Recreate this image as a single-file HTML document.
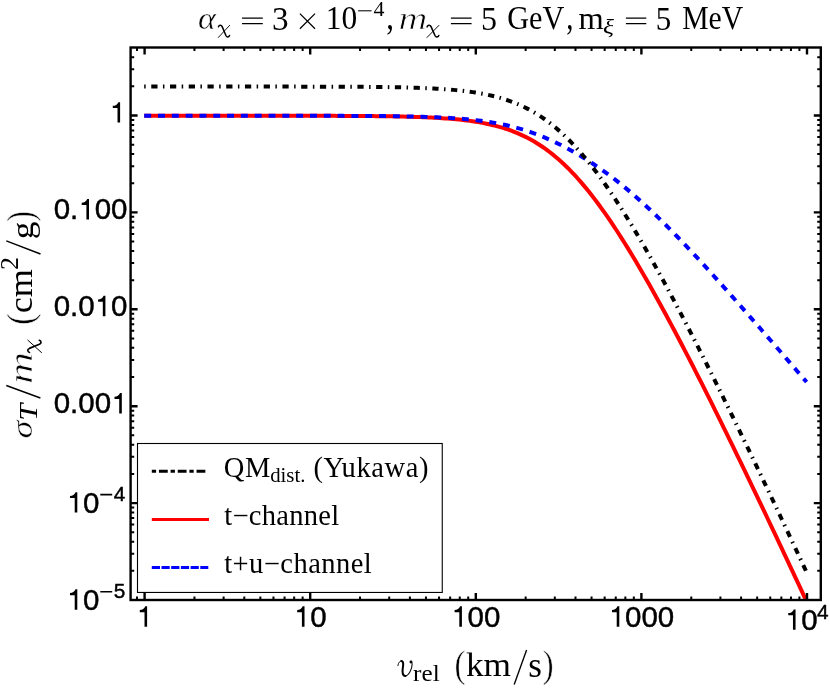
<!DOCTYPE html>
<html><head><meta charset="utf-8"><title>plot</title>
<style>
html,body{margin:0;padding:0;background:#fff;}
svg{display:block;will-change:transform;}
text{fill:#000;}
.ser{font-family:"Liberation Serif",serif;}
.san{font-family:"Liberation Sans",sans-serif;}
</style></head><body>
<svg width="830" height="692" viewBox="0 0 830 692">
<rect width="830" height="692" fill="#fff"/>
<!-- curves -->
<clipPath id="pc"><rect x="130.6" y="47.5" width="690.20" height="552.50"/></clipPath>
<g clip-path="url(#pc)"><g fill="none" stroke-width="4" stroke-linejoin="round" transform="translate(-0.4,0.25)">
<path d="M144.60,115.50 L147.36,115.50 L150.12,115.50 L152.88,115.50 L155.64,115.50 L158.40,115.50 L161.16,115.50 L163.92,115.50 L166.68,115.50 L169.44,115.50 L172.20,115.50 L174.96,115.50 L177.72,115.50 L180.48,115.50 L183.24,115.50 L186.00,115.50 L188.76,115.50 L191.52,115.50 L194.28,115.50 L197.04,115.50 L199.80,115.50 L202.56,115.50 L205.32,115.50 L208.08,115.50 L210.84,115.50 L213.60,115.50 L216.36,115.50 L219.12,115.50 L221.88,115.51 L224.64,115.51 L227.40,115.51 L230.16,115.51 L232.92,115.51 L235.68,115.51 L238.44,115.51 L241.20,115.51 L243.96,115.51 L246.72,115.51 L249.48,115.51 L252.24,115.51 L255.00,115.51 L257.76,115.51 L260.52,115.52 L263.28,115.52 L266.04,115.52 L268.80,115.52 L271.56,115.52 L274.32,115.52 L277.08,115.52 L279.84,115.53 L282.60,115.53 L285.36,115.53 L288.12,115.53 L290.88,115.54 L293.64,115.54 L296.40,115.54 L299.16,115.55 L301.92,115.55 L304.68,115.55 L307.44,115.56 L310.20,115.56 L312.96,115.57 L315.72,115.57 L318.48,115.58 L321.24,115.58 L324.00,115.59 L326.76,115.60 L329.52,115.61 L332.28,115.62 L335.04,115.62 L337.80,115.63 L340.56,115.65 L343.32,115.66 L346.08,115.67 L348.84,115.68 L351.60,115.70 L354.36,115.71 L357.12,115.73 L359.88,115.75 L362.64,115.77 L365.40,115.79 L368.16,115.81 L370.92,115.84 L373.68,115.86 L376.44,115.89 L379.20,115.92 L381.96,115.96 L384.72,115.99 L387.48,116.03 L390.24,116.08 L393.00,116.12 L395.76,116.17 L398.52,116.22 L401.28,116.28 L404.04,116.34 L406.80,116.41 L409.56,116.48 L412.32,116.56 L415.08,116.64 L417.84,116.73 L420.60,116.83 L423.36,116.94 L426.12,117.05 L428.88,117.17 L431.64,117.30 L434.40,117.44 L437.16,117.60 L439.92,117.76 L442.68,117.94 L445.44,118.13 L448.20,118.33 L450.96,118.55 L453.72,118.79 L456.48,119.04 L459.24,119.32 L462.00,119.61 L464.76,119.93 L467.52,120.27 L470.28,120.63 L473.04,121.03 L475.80,121.45 L478.56,121.90 L481.32,122.38 L484.08,122.90 L486.84,123.45 L489.60,124.04 L492.36,124.68 L495.12,125.35 L497.88,126.07 L500.64,126.84 L503.40,127.67 L506.16,128.54 L508.92,129.47 L511.68,130.46 L514.44,131.51 L517.20,132.63 L519.96,133.81 L522.72,135.07 L525.48,136.39 L528.24,137.79 L531.00,139.27 L533.76,140.83 L536.52,142.47 L539.28,144.20 L542.04,146.01 L544.80,147.91 L547.56,149.90 L550.32,151.98 L553.08,154.16 L555.84,156.43 L558.60,158.79 L561.36,161.25 L564.12,163.80 L566.88,166.45 L569.64,169.20 L572.40,172.04 L575.16,174.98 L577.92,178.01 L580.68,181.13 L583.44,184.35 L586.20,187.65 L588.96,191.05 L591.72,194.53 L594.48,198.10 L597.24,201.75 L600.00,205.49 L602.76,209.30 L605.52,213.20 L608.28,217.17 L611.04,221.21 L613.80,225.32 L616.56,229.51 L619.32,233.76 L622.08,238.07 L624.84,242.45 L627.60,246.89 L630.36,251.39 L633.12,255.94 L635.88,260.55 L638.64,265.21 L641.40,269.92 L644.16,274.68 L646.92,279.49 L649.68,284.34 L652.44,289.24 L655.20,294.18 L657.96,299.16 L660.72,304.17 L663.48,309.23 L666.24,314.32 L669.00,319.44 L671.76,324.60 L674.52,329.79 L677.28,335.01 L680.04,340.26 L682.80,345.54 L685.56,350.85 L688.32,356.18 L691.08,361.54 L693.84,366.92 L696.60,372.33 L699.36,377.76 L702.12,383.21 L704.88,388.68 L707.64,394.17 L710.40,399.69 L713.16,405.22 L715.92,410.77 L718.68,416.33 L721.44,421.92 L724.20,427.52 L726.96,433.14 L729.72,438.77 L732.48,444.42 L735.24,450.08 L738.00,455.76 L740.76,461.45 L743.52,467.15 L746.28,472.87 L749.04,478.59 L751.80,484.33 L754.56,490.09 L757.32,495.85 L760.08,501.62 L762.84,507.41 L765.60,513.20 L768.36,519.01 L771.12,524.82 L773.88,530.65 L776.64,536.48 L779.40,542.33 L782.16,548.18 L784.92,554.04 L787.68,559.91 L790.44,565.78 L793.20,571.67 L795.96,577.56 L798.72,583.46 L801.48,589.36 L804.24,595.28 L807.00,601.20" stroke="#f00"/>
<path d="M144.60,115.50 L147.36,115.50 L150.12,115.50 L152.88,115.50 L155.64,115.50 L158.40,115.50 L161.16,115.50 L163.92,115.50 L166.68,115.50 L169.44,115.50 L172.20,115.50 L174.96,115.50 L177.72,115.50 L180.48,115.50 L183.24,115.50 L186.00,115.50 L188.76,115.50 L191.52,115.50 L194.28,115.50 L197.04,115.50 L199.80,115.50 L202.56,115.50 L205.32,115.50 L208.08,115.50 L210.84,115.50 L213.60,115.50 L216.36,115.50 L219.12,115.50 L221.88,115.50 L224.64,115.50 L227.40,115.50 L230.16,115.51 L232.92,115.51 L235.68,115.51 L238.44,115.51 L241.20,115.51 L243.96,115.51 L246.72,115.51 L249.48,115.51 L252.24,115.51 L255.00,115.51 L257.76,115.51 L260.52,115.51 L263.28,115.51 L266.04,115.51 L268.80,115.51 L271.56,115.52 L274.32,115.52 L277.08,115.52 L279.84,115.52 L282.60,115.52 L285.36,115.52 L288.12,115.53 L290.88,115.53 L293.64,115.53 L296.40,115.53 L299.16,115.53 L301.92,115.54 L304.68,115.54 L307.44,115.54 L310.20,115.55 L312.96,115.55 L315.72,115.55 L318.48,115.56 L321.24,115.56 L324.00,115.57 L326.76,115.57 L329.52,115.58 L332.28,115.59 L335.04,115.59 L337.80,115.60 L340.56,115.61 L343.32,115.62 L346.08,115.63 L348.84,115.64 L351.60,115.65 L354.36,115.66 L357.12,115.67 L359.88,115.69 L362.64,115.70 L365.40,115.72 L368.16,115.73 L370.92,115.75 L373.68,115.77 L376.44,115.79 L379.20,115.82 L381.96,115.84 L384.72,115.87 L387.48,115.90 L390.24,115.93 L393.00,115.96 L395.76,116.00 L398.52,116.04 L401.28,116.08 L404.04,116.13 L406.80,116.18 L409.56,116.23 L412.32,116.29 L415.08,116.35 L417.84,116.42 L420.60,116.49 L423.36,116.57 L426.12,116.65 L428.88,116.75 L431.64,116.84 L434.40,116.95 L437.16,117.06 L439.92,117.18 L442.68,117.31 L445.44,117.45 L448.20,117.60 L450.96,117.76 L453.72,117.94 L456.48,118.12 L459.24,118.32 L462.00,118.54 L464.76,118.77 L467.52,119.01 L470.28,119.28 L473.04,119.56 L475.80,119.86 L478.56,120.18 L481.32,120.53 L484.08,120.90 L486.84,121.29 L489.60,121.71 L492.36,122.15 L495.12,122.62 L497.88,123.13 L500.64,123.66 L503.40,124.22 L506.16,124.82 L508.92,125.45 L511.68,126.12 L514.44,126.82 L517.20,127.56 L519.96,128.34 L522.72,129.16 L525.48,130.01 L528.24,130.91 L531.00,131.85 L533.76,132.82 L536.52,133.84 L539.28,134.90 L542.04,136.00 L544.80,137.14 L547.56,138.33 L550.32,139.55 L553.08,140.81 L555.84,142.11 L558.60,143.45 L561.36,144.82 L564.12,146.24 L566.88,147.69 L569.64,149.18 L572.40,150.71 L575.16,152.27 L577.92,153.87 L580.68,155.50 L583.44,157.17 L586.20,158.88 L588.96,160.63 L591.72,162.41 L594.48,164.23 L597.24,166.09 L600.00,167.99 L602.76,169.93 L605.52,171.90 L608.28,173.92 L611.04,175.97 L613.80,178.06 L616.56,180.20 L619.32,182.37 L622.08,184.58 L624.84,186.83 L627.60,189.12 L630.36,191.44 L633.12,193.81 L635.88,196.21 L638.64,198.64 L641.40,201.12 L644.16,203.62 L646.92,206.16 L649.68,208.73 L652.44,211.34 L655.20,213.97 L657.96,216.63 L660.72,219.32 L663.48,222.04 L666.24,224.79 L669.00,227.56 L671.76,230.35 L674.52,233.17 L677.28,236.01 L680.04,238.87 L682.80,241.75 L685.56,244.65 L688.32,247.57 L691.08,250.51 L693.84,253.46 L696.60,256.43 L699.36,259.41 L702.12,262.40 L704.88,265.42 L707.64,268.44 L710.40,271.47 L713.16,274.52 L715.92,277.58 L718.68,280.64 L721.44,283.72 L724.20,286.81 L726.96,289.90 L729.72,293.00 L732.48,296.12 L735.24,299.23 L738.00,302.36 L740.76,305.49 L743.52,308.62 L746.28,311.77 L749.04,314.91 L751.80,318.07 L754.56,321.22 L757.32,324.39 L760.08,327.55 L762.84,330.72 L765.60,333.90 L768.36,337.07 L771.12,340.25 L773.88,343.44 L776.64,346.62 L779.40,349.81 L782.16,353.00 L784.92,356.20 L787.68,359.39 L790.44,362.59 L793.20,365.79 L795.96,368.99 L798.72,372.19 L801.48,375.39 L804.24,378.60 L807.00,381.80" stroke="#00f" stroke-dasharray="6.95 6.865"/>
<path d="M144.60,86.33 L147.36,86.33 L150.12,86.33 L152.88,86.33 L155.64,86.33 L158.40,86.33 L161.16,86.33 L163.92,86.33 L166.68,86.33 L169.44,86.33 L172.20,86.33 L174.96,86.33 L177.72,86.33 L180.48,86.33 L183.24,86.33 L186.00,86.33 L188.76,86.33 L191.52,86.33 L194.28,86.33 L197.04,86.33 L199.80,86.33 L202.56,86.33 L205.32,86.33 L208.08,86.33 L210.84,86.33 L213.60,86.33 L216.36,86.33 L219.12,86.34 L221.88,86.34 L224.64,86.34 L227.40,86.34 L230.16,86.34 L232.92,86.34 L235.68,86.34 L238.44,86.34 L241.20,86.34 L243.96,86.34 L246.72,86.34 L249.48,86.34 L252.24,86.34 L255.00,86.34 L257.76,86.34 L260.52,86.35 L263.28,86.35 L266.04,86.35 L268.80,86.35 L271.56,86.35 L274.32,86.35 L277.08,86.36 L279.84,86.36 L282.60,86.36 L285.36,86.36 L288.12,86.36 L290.88,86.37 L293.64,86.37 L296.40,86.37 L299.16,86.38 L301.92,86.38 L304.68,86.38 L307.44,86.39 L310.20,86.39 L312.96,86.40 L315.72,86.40 L318.48,86.41 L321.24,86.42 L324.00,86.42 L326.76,86.43 L329.52,86.44 L332.28,86.45 L335.04,86.45 L337.80,86.46 L340.56,86.48 L343.32,86.49 L346.08,86.50 L348.84,86.51 L351.60,86.53 L354.36,86.54 L357.12,86.56 L359.88,86.58 L362.64,86.60 L365.40,86.62 L368.16,86.64 L370.92,86.67 L373.68,86.69 L376.44,86.72 L379.20,86.75 L381.96,86.79 L384.72,86.82 L387.48,86.86 L390.24,86.91 L393.00,86.95 L395.76,87.00 L398.52,87.05 L401.28,87.11 L404.04,87.17 L406.80,87.24 L409.56,87.31 L412.32,87.39 L415.08,87.47 L417.84,87.56 L420.60,87.66 L423.36,87.77 L426.12,87.88 L428.88,88.00 L431.64,88.13 L434.40,88.27 L437.16,88.43 L439.92,88.59 L442.68,88.77 L445.44,88.96 L448.20,89.16 L450.96,89.38 L453.72,89.62 L456.48,89.87 L459.24,90.15 L462.00,90.44 L464.76,90.76 L467.52,91.10 L470.28,91.46 L473.04,91.86 L475.80,92.28 L478.56,92.73 L481.32,93.21 L484.08,93.73 L486.84,94.28 L489.60,94.87 L492.36,95.51 L495.12,96.18 L497.88,96.90 L500.64,97.67 L503.40,98.50 L506.16,99.37 L508.92,100.30 L511.68,101.29 L514.44,102.34 L517.20,103.46 L519.96,104.64 L522.72,105.90 L525.48,107.22 L528.24,108.62 L531.00,110.10 L533.76,111.66 L536.52,113.30 L539.28,115.03 L542.04,116.84 L544.80,118.74 L547.56,120.73 L550.32,122.81 L553.08,124.99 L555.84,127.26 L558.60,129.62 L561.36,132.08 L564.12,134.63 L566.88,137.28 L569.64,140.03 L572.40,142.87 L575.16,145.81 L577.92,148.84 L580.68,151.96 L583.44,155.18 L586.20,158.48 L588.96,161.88 L591.72,165.36 L594.48,168.93 L597.24,172.58 L600.00,176.32 L602.76,180.13 L605.52,184.03 L608.28,188.00 L611.04,192.04 L613.80,196.15 L616.56,200.34 L619.32,204.59 L622.08,208.90 L624.84,213.28 L627.60,217.72 L630.36,222.22 L633.12,226.77 L635.88,231.38 L638.64,236.04 L641.40,240.75 L644.16,245.51 L646.92,250.32 L649.68,255.17 L652.44,260.07 L655.20,265.01 L657.96,269.99 L660.72,275.00 L663.48,280.06 L666.24,285.15 L669.00,290.27 L671.76,295.43 L674.52,300.62 L677.28,305.84 L680.04,311.09 L682.80,316.37 L685.56,321.68 L688.32,327.01 L691.08,332.37 L693.84,337.75 L696.60,343.16 L699.36,348.59 L702.12,354.04 L704.88,359.51 L707.64,365.00 L710.40,370.52 L713.16,376.05 L715.92,381.60 L718.68,387.16 L721.44,392.75 L724.20,398.35 L726.96,403.97 L729.72,409.60 L732.48,415.25 L735.24,420.91 L738.00,426.59 L740.76,432.28 L743.52,437.98 L746.28,443.70 L749.04,449.42 L751.80,455.16 L754.56,460.92 L757.32,466.68 L760.08,472.45 L762.84,478.24 L765.60,484.03 L768.36,489.84 L771.12,495.65 L773.88,501.48 L776.64,507.31 L779.40,513.16 L782.16,519.01 L784.92,524.87 L787.68,530.74 L790.44,536.61 L793.20,542.50 L795.96,548.39 L798.72,554.29 L801.48,560.19 L804.24,566.11 L807.00,572.03" stroke="#000" stroke-dasharray="1.5 5.55 6.25 5.44"/>
</g></g>
<!-- frame + ticks -->
<g stroke="#000" fill="none">
<path d="M137.02,600.0 v-3.6 M137.02,47.5 v3.6" stroke-width="2.0"/>
<path d="M144.60,600.0 v-7.0 M144.60,47.5 v7.0" stroke-width="2.4"/>
<path d="M194.45,600.0 v-3.6 M194.45,47.5 v3.6" stroke-width="2.0"/>
<path d="M223.61,600.0 v-3.6 M223.61,47.5 v3.6" stroke-width="2.0"/>
<path d="M244.30,600.0 v-3.6 M244.30,47.5 v3.6" stroke-width="2.0"/>
<path d="M260.35,600.0 v-3.6 M260.35,47.5 v3.6" stroke-width="2.0"/>
<path d="M273.46,600.0 v-3.6 M273.46,47.5 v3.6" stroke-width="2.0"/>
<path d="M284.55,600.0 v-3.6 M284.55,47.5 v3.6" stroke-width="2.0"/>
<path d="M294.15,600.0 v-3.6 M294.15,47.5 v3.6" stroke-width="2.0"/>
<path d="M302.62,600.0 v-3.6 M302.62,47.5 v3.6" stroke-width="2.0"/>
<path d="M310.20,600.0 v-7.0 M310.20,47.5 v7.0" stroke-width="2.4"/>
<path d="M360.05,600.0 v-3.6 M360.05,47.5 v3.6" stroke-width="2.0"/>
<path d="M389.21,600.0 v-3.6 M389.21,47.5 v3.6" stroke-width="2.0"/>
<path d="M409.90,600.0 v-3.6 M409.90,47.5 v3.6" stroke-width="2.0"/>
<path d="M425.95,600.0 v-3.6 M425.95,47.5 v3.6" stroke-width="2.0"/>
<path d="M439.06,600.0 v-3.6 M439.06,47.5 v3.6" stroke-width="2.0"/>
<path d="M450.15,600.0 v-3.6 M450.15,47.5 v3.6" stroke-width="2.0"/>
<path d="M459.75,600.0 v-3.6 M459.75,47.5 v3.6" stroke-width="2.0"/>
<path d="M468.22,600.0 v-3.6 M468.22,47.5 v3.6" stroke-width="2.0"/>
<path d="M475.80,600.0 v-7.0 M475.80,47.5 v7.0" stroke-width="2.4"/>
<path d="M525.65,600.0 v-3.6 M525.65,47.5 v3.6" stroke-width="2.0"/>
<path d="M554.81,600.0 v-3.6 M554.81,47.5 v3.6" stroke-width="2.0"/>
<path d="M575.50,600.0 v-3.6 M575.50,47.5 v3.6" stroke-width="2.0"/>
<path d="M591.55,600.0 v-3.6 M591.55,47.5 v3.6" stroke-width="2.0"/>
<path d="M604.66,600.0 v-3.6 M604.66,47.5 v3.6" stroke-width="2.0"/>
<path d="M615.75,600.0 v-3.6 M615.75,47.5 v3.6" stroke-width="2.0"/>
<path d="M625.35,600.0 v-3.6 M625.35,47.5 v3.6" stroke-width="2.0"/>
<path d="M633.82,600.0 v-3.6 M633.82,47.5 v3.6" stroke-width="2.0"/>
<path d="M641.40,600.0 v-7.0 M641.40,47.5 v7.0" stroke-width="2.4"/>
<path d="M691.25,600.0 v-3.6 M691.25,47.5 v3.6" stroke-width="2.0"/>
<path d="M720.41,600.0 v-3.6 M720.41,47.5 v3.6" stroke-width="2.0"/>
<path d="M741.10,600.0 v-3.6 M741.10,47.5 v3.6" stroke-width="2.0"/>
<path d="M757.15,600.0 v-3.6 M757.15,47.5 v3.6" stroke-width="2.0"/>
<path d="M770.26,600.0 v-3.6 M770.26,47.5 v3.6" stroke-width="2.0"/>
<path d="M781.35,600.0 v-3.6 M781.35,47.5 v3.6" stroke-width="2.0"/>
<path d="M790.95,600.0 v-3.6 M790.95,47.5 v3.6" stroke-width="2.0"/>
<path d="M799.42,600.0 v-3.6 M799.42,47.5 v3.6" stroke-width="2.0"/>
<path d="M807.00,600.0 v-7.0 M807.00,47.5 v7.0" stroke-width="2.4"/>
<path d="M130.6,570.83 h3.6 M820.8,570.83 h-3.6" stroke-width="2.0"/>
<path d="M130.6,553.77 h3.6 M820.8,553.77 h-3.6" stroke-width="2.0"/>
<path d="M130.6,541.66 h3.6 M820.8,541.66 h-3.6" stroke-width="2.0"/>
<path d="M130.6,532.27 h3.6 M820.8,532.27 h-3.6" stroke-width="2.0"/>
<path d="M130.6,524.60 h3.6 M820.8,524.60 h-3.6" stroke-width="2.0"/>
<path d="M130.6,518.11 h3.6 M820.8,518.11 h-3.6" stroke-width="2.0"/>
<path d="M130.6,512.49 h3.6 M820.8,512.49 h-3.6" stroke-width="2.0"/>
<path d="M130.6,507.53 h3.6 M820.8,507.53 h-3.6" stroke-width="2.0"/>
<path d="M130.6,503.10 h7.0 M820.8,503.10 h-7.0" stroke-width="2.4"/>
<path d="M130.6,473.93 h3.6 M820.8,473.93 h-3.6" stroke-width="2.0"/>
<path d="M130.6,456.87 h3.6 M820.8,456.87 h-3.6" stroke-width="2.0"/>
<path d="M130.6,444.76 h3.6 M820.8,444.76 h-3.6" stroke-width="2.0"/>
<path d="M130.6,435.37 h3.6 M820.8,435.37 h-3.6" stroke-width="2.0"/>
<path d="M130.6,427.70 h3.6 M820.8,427.70 h-3.6" stroke-width="2.0"/>
<path d="M130.6,421.21 h3.6 M820.8,421.21 h-3.6" stroke-width="2.0"/>
<path d="M130.6,415.59 h3.6 M820.8,415.59 h-3.6" stroke-width="2.0"/>
<path d="M130.6,410.63 h3.6 M820.8,410.63 h-3.6" stroke-width="2.0"/>
<path d="M130.6,406.20 h7.0 M820.8,406.20 h-7.0" stroke-width="2.4"/>
<path d="M130.6,377.03 h3.6 M820.8,377.03 h-3.6" stroke-width="2.0"/>
<path d="M130.6,359.97 h3.6 M820.8,359.97 h-3.6" stroke-width="2.0"/>
<path d="M130.6,347.86 h3.6 M820.8,347.86 h-3.6" stroke-width="2.0"/>
<path d="M130.6,338.47 h3.6 M820.8,338.47 h-3.6" stroke-width="2.0"/>
<path d="M130.6,330.80 h3.6 M820.8,330.80 h-3.6" stroke-width="2.0"/>
<path d="M130.6,324.31 h3.6 M820.8,324.31 h-3.6" stroke-width="2.0"/>
<path d="M130.6,318.69 h3.6 M820.8,318.69 h-3.6" stroke-width="2.0"/>
<path d="M130.6,313.73 h3.6 M820.8,313.73 h-3.6" stroke-width="2.0"/>
<path d="M130.6,309.30 h7.0 M820.8,309.30 h-7.0" stroke-width="2.4"/>
<path d="M130.6,280.13 h3.6 M820.8,280.13 h-3.6" stroke-width="2.0"/>
<path d="M130.6,263.07 h3.6 M820.8,263.07 h-3.6" stroke-width="2.0"/>
<path d="M130.6,250.96 h3.6 M820.8,250.96 h-3.6" stroke-width="2.0"/>
<path d="M130.6,241.57 h3.6 M820.8,241.57 h-3.6" stroke-width="2.0"/>
<path d="M130.6,233.90 h3.6 M820.8,233.90 h-3.6" stroke-width="2.0"/>
<path d="M130.6,227.41 h3.6 M820.8,227.41 h-3.6" stroke-width="2.0"/>
<path d="M130.6,221.79 h3.6 M820.8,221.79 h-3.6" stroke-width="2.0"/>
<path d="M130.6,216.83 h3.6 M820.8,216.83 h-3.6" stroke-width="2.0"/>
<path d="M130.6,212.40 h7.0 M820.8,212.40 h-7.0" stroke-width="2.4"/>
<path d="M130.6,183.23 h3.6 M820.8,183.23 h-3.6" stroke-width="2.0"/>
<path d="M130.6,166.17 h3.6 M820.8,166.17 h-3.6" stroke-width="2.0"/>
<path d="M130.6,154.06 h3.6 M820.8,154.06 h-3.6" stroke-width="2.0"/>
<path d="M130.6,144.67 h3.6 M820.8,144.67 h-3.6" stroke-width="2.0"/>
<path d="M130.6,137.00 h3.6 M820.8,137.00 h-3.6" stroke-width="2.0"/>
<path d="M130.6,130.51 h3.6 M820.8,130.51 h-3.6" stroke-width="2.0"/>
<path d="M130.6,124.89 h3.6 M820.8,124.89 h-3.6" stroke-width="2.0"/>
<path d="M130.6,119.93 h3.6 M820.8,119.93 h-3.6" stroke-width="2.0"/>
<path d="M130.6,115.50 h7.0 M820.8,115.50 h-7.0" stroke-width="2.4"/>
<path d="M130.6,86.33 h3.6 M820.8,86.33 h-3.6" stroke-width="2.0"/>
<path d="M130.6,69.27 h3.6 M820.8,69.27 h-3.6" stroke-width="2.0"/>
<path d="M130.6,57.16 h3.6 M820.8,57.16 h-3.6" stroke-width="2.0"/>
<rect x="130.6" y="47.5" width="690.20" height="552.50" stroke-width="2.4"/>
</g>
<!-- legend -->
<rect x="137.5" y="443.5" width="304.75" height="148.95" fill="#fff" stroke="#000" stroke-width="1.1"/>
<g fill="none">
<path d="M151.8,471.2 H205.6" stroke="#000" stroke-width="3" stroke-dasharray="4.3 2.85 8.8 2.85"/>
<path d="M151.8,519.45 H209" stroke="#f00" stroke-width="3"/>
<path d="M151.8,567.4 H208.3" stroke="#00f" stroke-width="3" stroke-dasharray="8.2 1.5"/>
</g>
<g class="ser" font-size="28.5">
<text x="223.8" y="476.5" textLength="46.5" lengthAdjust="spacing">QM</text>
<text x="270.2" y="482.0" font-size="20.8">dist.</text>
<text x="313.5" y="476.5" textLength="114.9" lengthAdjust="spacing">(Yukawa)</text>
<text x="224.2" y="524.75" textLength="115" lengthAdjust="spacing">t−channel</text>
<text x="224.2" y="573.0" textLength="147.5" lengthAdjust="spacing">t+u−channel</text>
</g>
<!-- tick labels -->
<g class="san" stroke="#000" stroke-width="0.45" stroke-linejoin="round">
<path transform="translate(109.40,122.55) scale(29.5,28.762)" d="M0.275,0 L0.275,-0.505 L0.115,-0.505 L0.115,-0.58 C0.2,-0.585 0.275,-0.625 0.302,-0.709 L0.363,-0.709 L0.363,0 Z" fill="#000" stroke="none"/>
<text transform="translate(53.69,219.45) scale(1,0.975)" font-size="29.5">0</text>
<text transform="translate(70.09,219.45) scale(1,0.975)" font-size="29.5">.</text>
<path transform="translate(78.29,219.45) scale(29.5,28.762)" d="M0.275,0 L0.275,-0.505 L0.115,-0.505 L0.115,-0.58 C0.2,-0.585 0.275,-0.625 0.302,-0.709 L0.363,-0.709 L0.363,0 Z" fill="#000" stroke="none"/>
<text transform="translate(94.70,219.45) scale(1,0.975)" font-size="29.5">0</text>
<text transform="translate(111.10,219.45) scale(1,0.975)" font-size="29.5">0</text>
<text transform="translate(53.69,316.25) scale(1,0.975)" font-size="29.5">0</text>
<text transform="translate(70.09,316.25) scale(1,0.975)" font-size="29.5">.</text>
<text transform="translate(78.29,316.25) scale(1,0.975)" font-size="29.5">0</text>
<path transform="translate(94.70,316.25) scale(29.5,28.762)" d="M0.275,0 L0.275,-0.505 L0.115,-0.505 L0.115,-0.58 C0.2,-0.585 0.275,-0.625 0.302,-0.709 L0.363,-0.709 L0.363,0 Z" fill="#000" stroke="none"/>
<text transform="translate(111.10,316.25) scale(1,0.975)" font-size="29.5">0</text>
<text transform="translate(53.69,413.45) scale(1,0.975)" font-size="29.5">0</text>
<text transform="translate(70.09,413.45) scale(1,0.975)" font-size="29.5">.</text>
<text transform="translate(78.29,413.45) scale(1,0.975)" font-size="29.5">0</text>
<text transform="translate(94.70,413.45) scale(1,0.975)" font-size="29.5">0</text>
<path transform="translate(111.10,413.45) scale(29.5,28.762)" d="M0.275,0 L0.275,-0.505 L0.115,-0.505 L0.115,-0.58 C0.2,-0.585 0.275,-0.625 0.302,-0.709 L0.363,-0.709 L0.363,0 Z" fill="#000" stroke="none"/>
<path transform="translate(66.60,512.60) scale(29.5,28.762)" d="M0.275,0 L0.275,-0.505 L0.115,-0.505 L0.115,-0.58 C0.2,-0.585 0.275,-0.625 0.302,-0.709 L0.363,-0.709 L0.363,0 Z" fill="#000" stroke="none"/>
<text transform="translate(83.00,512.60) scale(1,0.975)" font-size="29.5">0</text>
<path transform="translate(66.60,609.70) scale(29.5,28.762)" d="M0.275,0 L0.275,-0.505 L0.115,-0.505 L0.115,-0.58 C0.2,-0.585 0.275,-0.625 0.302,-0.709 L0.363,-0.709 L0.363,0 Z" fill="#000" stroke="none"/>
<text transform="translate(83.00,609.70) scale(1,0.975)" font-size="29.5">0</text>
<path d="M100.3,494.65 H112.2 M100.3,591.75 H112.2" stroke="#000" stroke-width="1.6" fill="none"/>
<text transform="translate(113.70,501.00) scale(1,0.975)" font-size="20.8">4</text>
<text transform="translate(113.70,598.10) scale(1,0.975)" font-size="20.8">5</text>
<path transform="translate(136.40,626.70) scale(29.5,28.762)" d="M0.275,0 L0.275,-0.505 L0.115,-0.505 L0.115,-0.58 C0.2,-0.585 0.275,-0.625 0.302,-0.709 L0.363,-0.709 L0.363,0 Z" fill="#000" stroke="none"/>
<path transform="translate(293.80,626.70) scale(29.5,28.762)" d="M0.275,0 L0.275,-0.505 L0.115,-0.505 L0.115,-0.58 C0.2,-0.585 0.275,-0.625 0.302,-0.709 L0.363,-0.709 L0.363,0 Z" fill="#000" stroke="none"/>
<text transform="translate(310.20,626.70) scale(1,0.975)" font-size="29.5">0</text>
<path transform="translate(451.20,626.70) scale(29.5,28.762)" d="M0.275,0 L0.275,-0.505 L0.115,-0.505 L0.115,-0.58 C0.2,-0.585 0.275,-0.625 0.302,-0.709 L0.363,-0.709 L0.363,0 Z" fill="#000" stroke="none"/>
<text transform="translate(467.60,626.70) scale(1,0.975)" font-size="29.5">0</text>
<text transform="translate(484.00,626.70) scale(1,0.975)" font-size="29.5">0</text>
<path transform="translate(608.60,626.70) scale(29.5,28.762)" d="M0.275,0 L0.275,-0.505 L0.115,-0.505 L0.115,-0.58 C0.2,-0.585 0.275,-0.625 0.302,-0.709 L0.363,-0.709 L0.363,0 Z" fill="#000" stroke="none"/>
<text transform="translate(625.00,626.70) scale(1,0.975)" font-size="29.5">0</text>
<text transform="translate(641.40,626.70) scale(1,0.975)" font-size="29.5">0</text>
<text transform="translate(657.80,626.70) scale(1,0.975)" font-size="29.5">0</text>
<path transform="translate(784.85,629.80) scale(29.5,28.762)" d="M0.275,0 L0.275,-0.505 L0.115,-0.505 L0.115,-0.58 C0.2,-0.585 0.275,-0.625 0.302,-0.709 L0.363,-0.709 L0.363,0 Z" fill="#000" stroke="none"/>
<text transform="translate(801.25,629.80) scale(1,0.975)" font-size="29.5">0</text>
<text transform="translate(816.90,618.60) scale(1,0.975)" font-size="20.8">4</text>
</g>
<!-- title -->
<g class="ser">
<text transform="translate(197.88,29.19) scale(0.3392,0.3094)" font-size="100" font-style="italic" stroke="#fff" stroke-width="1.4" paint-order="fill stroke">α</text>
<path d="M218.31,37.47 L229.64,25.38" stroke="#000" stroke-width="0.90" fill="none" stroke-linecap="round"/><path d="M218.43,26.81 C219.16,24.99 221.20,24.60 222.17,26.68 L225.90,35.52 C226.87,37.60 228.79,37.34 229.52,35.52" stroke="#000" stroke-width="1.51" fill="none" stroke-linecap="round"/>
<text transform="translate(272.04,29.66) scale(0.3317,0.3364)" font-size="100">3</text>
<text transform="translate(325.87,29.25) scale(0.3149,0.3265)" font-size="100">10</text>
<text transform="translate(373.56,16.40) scale(0.2196,0.2154)" font-size="100">4</text>
<text transform="translate(386.27,29.14) scale(0.3067,0.3840)" font-size="100">,</text>
<text transform="translate(398.40,29.40) scale(0.4008,0.3138)" font-size="100" font-style="italic" stroke="#fff" stroke-width="2.2" paint-order="fill stroke">m</text>
<path d="M426.98,37.47 L438.92,25.38" stroke="#000" stroke-width="0.95" fill="none" stroke-linecap="round"/><path d="M427.11,26.81 C427.87,24.99 430.03,24.60 431.05,26.68 L434.98,35.52 C436.00,37.60 438.03,37.34 438.79,35.52" stroke="#000" stroke-width="1.59" fill="none" stroke-linecap="round"/>
<text transform="translate(480.98,29.57) scale(0.3200,0.3333)" font-size="100">5</text>
<text transform="translate(507.29,29.01) scale(0.3022,0.3455)" font-size="100">GeV</text>
<text transform="translate(566.35,29.14) scale(0.2867,0.3840)" font-size="100">,</text>
<text transform="translate(578.55,29.20) scale(0.3250,0.3128)" font-size="100">m</text>
<text transform="translate(602.94,33.55) scale(0.2550,0.2138)" font-size="100" font-style="italic">ξ</text>
<text transform="translate(655.64,29.57) scale(0.3100,0.3333)" font-size="100">5</text>
<text transform="translate(682.21,28.94) scale(0.2970,0.3299)" font-size="100">MeV</text>
</g>
<path d="M242.05,18.1 H262.8 M242.05,23.65 H262.8" stroke="#000" stroke-width="1.2" fill="none"/>
<path d="M450.9,18.1 H471.6 M450.9,23.65 H471.6" stroke="#000" stroke-width="1.2" fill="none"/>
<path d="M625.9,18.1 H646.3 M625.9,23.65 H646.3" stroke="#000" stroke-width="1.2" fill="none"/>
<path d="M299.9,13.6 L315,28.7 M315,13.6 L299.9,28.7" stroke="#000" stroke-width="1.25" fill="none"/>
<path d="M358.1,10.8 H371.6" stroke="#000" stroke-width="1.05" fill="none"/>
<!-- x label -->
<g class="ser">
<path d="M397.86,665.65 C398.32,662.51 399.86,660.86 401.56,661.03" stroke="#000" stroke-width="0.9" fill="none" stroke-linecap="round"/><path d="M401.25,661.03 C403.87,661.19 403.25,665.15 402.79,668.12 C402.17,672.08 402.48,675.96 405.41,675.96" stroke="#000" stroke-width="2.0" fill="none" stroke-linecap="round"/><path d="M405.10,676.04 C408.80,676.04 412.11,668.78 412.11,664.16 C412.11,662.51 411.72,661.69 411.26,661.36" stroke="#000" stroke-width="1.05" fill="none" stroke-linecap="round"/><circle cx="410.95" cy="661.93" r="1.45" fill="#000"/>
<text transform="translate(413.10,680.87) scale(0.2520,0.2286)" font-size="100">rel</text>
<text transform="translate(454.49,676.50) scale(0.3269,0.3856)" font-size="100" stroke="#fff" stroke-width="1.4" paint-order="fill stroke">(</text>
<text transform="translate(465.89,676.10) scale(0.3532,0.3420)" font-size="100">km</text>
<text transform="translate(528.19,676.54) scale(0.3516,0.3625)" font-size="100">s</text>
<text transform="translate(542.72,676.53) scale(0.3269,0.3844)" font-size="100" stroke="#fff" stroke-width="1.4" paint-order="fill stroke">)</text>
</g>
<path d="M514.2,684.5 L526.6,650" stroke="#000" stroke-width="1.35" fill="none"/>
<!-- y label -->
<g class="ser" transform="rotate(-90)">
<text transform="translate(-221.77,32.66) scale(0.3231,0.3878)" font-size="100" stroke="#fff" stroke-width="1.4" paint-order="fill stroke">)</text>
<text transform="translate(-239.21,32.74) scale(0.3523,0.3219)" font-size="100">g</text>
<text transform="translate(-269.94,17.90) scale(0.2600,0.2415)" font-size="100">2</text>
<text transform="translate(-313.35,32.16) scale(0.3615,0.3438)" font-size="100">cm</text>
<text transform="translate(-324.90,32.83) scale(0.3500,0.3889)" font-size="100" stroke="#fff" stroke-width="1.4" paint-order="fill stroke">(</text>
<path d="M-352.60,41.55 L-340.20,27.88" stroke="#000" stroke-width="0.99" fill="none" stroke-linecap="round"/><path d="M-352.47,29.50 C-351.68,27.44 -349.44,27.00 -348.38,29.35 L-344.29,39.35 C-343.23,41.70 -341.12,41.41 -340.33,39.35" stroke="#000" stroke-width="1.65" fill="none" stroke-linecap="round"/>
<text transform="translate(-384.07,31.80) scale(0.4438,0.3277)" font-size="100" font-style="italic" stroke="#fff" stroke-width="2.2" paint-order="fill stroke">m</text>
<text transform="translate(-420.84,37.40) scale(0.3056,0.2523)" font-size="100" font-style="italic">T</text>
<text transform="translate(-438.38,32.20) scale(0.3612,0.3019)" font-size="100" font-style="italic" stroke="#fff" stroke-width="1.4" paint-order="fill stroke">σ</text>
</g>
<path d="M6.3,240.9 L40.5,254.0 M6.3,385.5 L40.4,398.0" stroke="#000" stroke-width="1.35" fill="none"/>
</svg>
</body></html>
